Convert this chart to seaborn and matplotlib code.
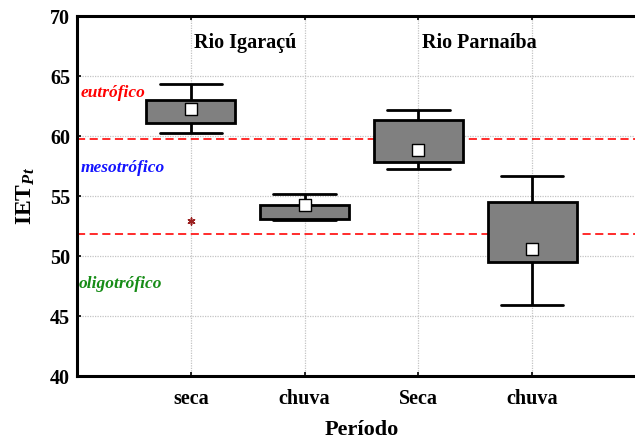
import numpy as np
import pandas as pd
import matplotlib
matplotlib.use("Agg")
import matplotlib.pyplot as plt
import seaborn as sns

# Five-number summaries (range / quartiles / median) of IET_Pt per river and period
rivers = ["Rio Igaraçú", "Rio Igaraçú", "Rio Parnaíba", "Rio Parnaíba"]
periods = ["seca", "chuva", "Seca", "chuva"]
minimum = [60.25, 53.0, 57.25, 45.92]
q1 = [61.08, 53.08, 57.83, 49.5]
median = [62.25, 54.25, 58.83, 50.58]
q3 = [63.0, 54.25, 61.33, 54.5]
maximum = [64.33, 55.17, 62.17, 56.67]

# Outlier (Rio Igaraçú, seca)
outlier_group = 0
outlier_value = 52.95

# Trophic-state limits
limit_eutrophic = 59.75
limit_oligotrophic = 51.83

groups = [f"{r} | {p}" for r, p in zip(rivers, periods)]

rows = []
for g, lo, a, m, b, hi in zip(groups, minimum, q1, median, q3, maximum):
    for v in (lo, a, m, b, hi):
        rows.append({"grupo": g, "IET": v})
df = pd.DataFrame(rows)

sns.set_theme(style="ticks")
plt.rcParams["font.family"] = ["Liberation Serif", "DejaVu Serif"]
plt.rcParams["font.weight"] = "bold"
plt.rcParams["mathtext.fontset"] = "custom"
plt.rcParams["mathtext.rm"] = "Liberation Serif:bold"
plt.rcParams["mathtext.it"] = "Liberation Serif:italic:bold"
for key in ("text.color", "axes.labelcolor", "xtick.color", "ytick.color"):
    plt.rcParams[key] = "black"

fig = plt.figure(figsize=(6.35, 4.41), dpi=100)
ax = fig.add_axes([77 / 635, 65 / 441, 569 / 635, 360 / 441])

sns.boxplot(
    data=df, x="grupo", y="IET", order=groups, ax=ax,
    whis=(0, 100), width=0.78, color="#808080", saturation=1,
    linecolor="black", linewidth=2.0, fliersize=0,
    medianprops=dict(visible=False),
    capwidths=0.55,
    zorder=3,
)

# Median markers
sns.stripplot(
    x=groups, y=median, order=groups, ax=ax, jitter=False,
    marker="s", size=8, color="white", edgecolor="black", linewidth=1.0,
    zorder=6,
)

# Outlier
sns.stripplot(
    x=[groups[outlier_group]], y=[outlier_value], order=groups, ax=ax,
    jitter=False, marker=(6, 2, 0), size=5, color="#9b2020",
    edgecolor="#9b2020", linewidth=1.1, zorder=6,
)

for lim in (limit_eutrophic, limit_oligotrophic):
    ax.axhline(lim, color="#ff1a1a", linewidth=1.3, linestyle=(0, (4.5, 2.5)), zorder=2)

ax.set_xlim(-1, 4)
ax.set_ylim(40, 70)
ax.set_yticks(np.arange(40, 71, 5))
ax.set_xticks(range(len(groups)))
ax.set_xticklabels(periods)

# Dotted grid on both axes
ax.set_axisbelow(True)
ax.xaxis.grid(True, color="#c4c4c4", linestyle=(0, (1, 1)), linewidth=0.9)
ax.yaxis.grid(True, color="#c4c4c4", linestyle=(0, (1, 1)), linewidth=0.9)

ax.tick_params(axis="both", direction="in", length=3, width=1.2, labelsize=14.5,
               colors="black")
ax.tick_params(axis="x", pad=9, top=True)
ax.tick_params(axis="y", pad=5)
for lab in ax.get_xticklabels() + ax.get_yticklabels():
    lab.set_fontweight("bold")

for side in ("left", "top", "bottom"):
    ax.spines[side].set_visible(True)
    ax.spines[side].set_linewidth(2.2)
    ax.spines[side].set_color("black")
ax.spines["right"].set_visible(False)

ax.set_xlabel("Período", fontsize=16, fontweight="bold", labelpad=8, color="black")
ax.set_ylabel(r"IET$_{\mathit{Pt}}$", fontsize=17, fontweight="bold", labelpad=9, color="black")

# River titles
ax.text(0.48, 67.75, "Rio Igaraçú", ha="center", va="center", fontsize=14.5, fontweight="bold")
ax.text(2.54, 67.75, "Rio Parnaíba", ha="center", va="center", fontsize=14.5, fontweight="bold")

# Trophic-state labels
lab_kw = dict(ha="left", va="center", fontsize=12.5, fontweight="bold", fontstyle="italic",
              transform=ax.get_yaxis_transform())
ax.text(0.006, 63.6, "eutrófico", color="#ff0000", **lab_kw)
ax.text(0.006, 57.35, "mesotrófico", color="#1414ff", **lab_kw)
ax.text(0.003, 47.7, "oligotrófico", color="#168c16", **lab_kw)

fig.savefig("out.png", dpi=100)
